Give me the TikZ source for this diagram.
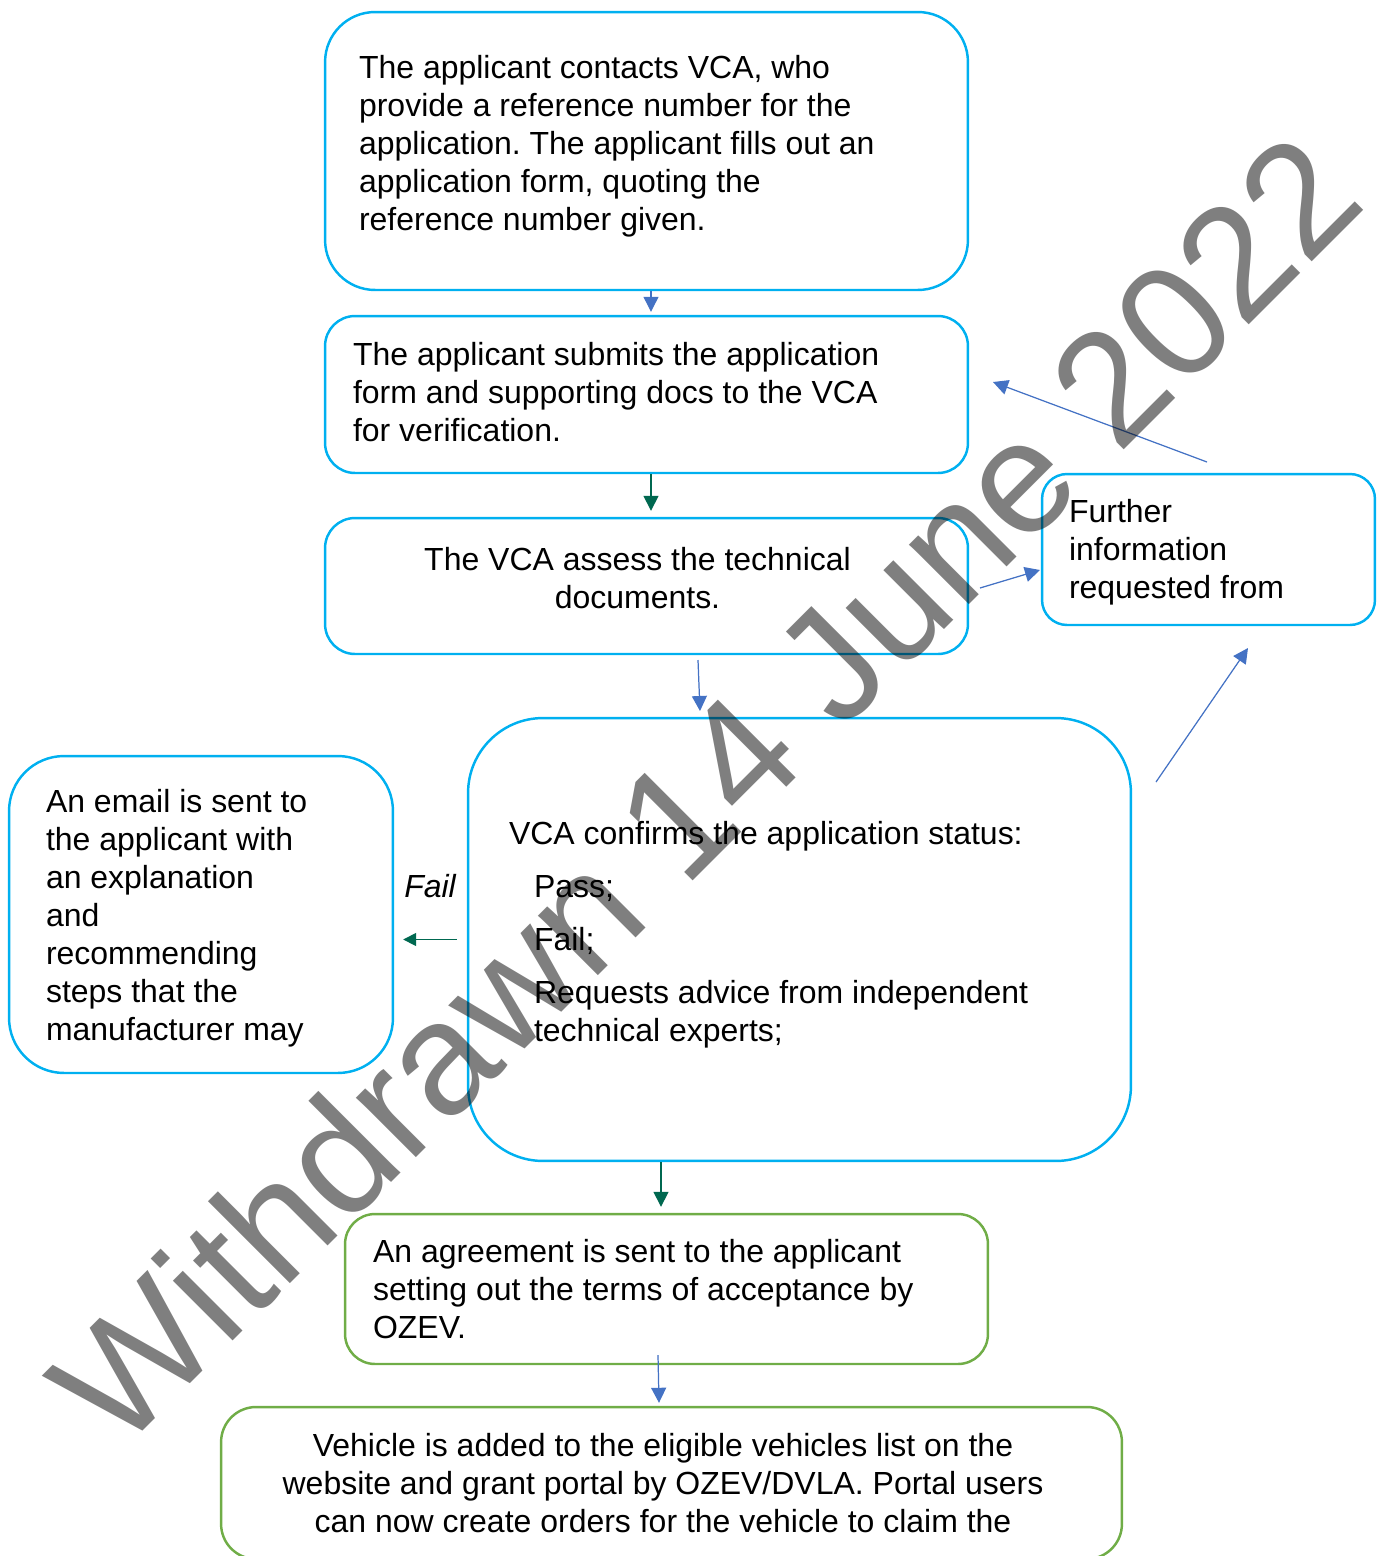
\documentclass[tikz,border=0pt]{standalone}
\usepackage{fontspec}
\setmainfont{Liberation Sans}
\usetikzlibrary{arrows.meta}
\definecolor{boxblue}{RGB}{0,176,240}
\definecolor{boxgreen}{RGB}{112,173,71}
\definecolor{arrblue}{RGB}{68,114,196}
\definecolor{arrgreen}{RGB}{0,104,80}

\begin{document}
\begin{tikzpicture}[x=0.02cm,y=-0.02cm,>={Triangle[length=0.3cm,width=0.3cm]},
	every node/.style={font=\fontsize{18.2}{21.6}\selectfont\frenchspacing},
	stage/.style={draw=boxblue,line width=1.4pt,inner sep=0pt},
	gstage/.style={draw=boxgreen,line width=1.4pt,inner sep=0pt},
	bluearr/.style={->,draw=arrblue,fill=arrblue,line width=0.7pt},
	greenarr/.style={->,draw=arrgreen,fill=arrgreen,line width=0.9pt}]
    \useasboundingbox (0,0) rectangle (1381,1556);

    \node[stage,rounded corners=1cm,minimum width=12.86cm,minimum height=5.56cm,text width=11.5cm,align=flush left,text depth=3.37cm] (contact) at (646.5,151)
        {The applicant contacts VCA, who\\provide a reference number for the\\application. The applicant fills out an\\application form, quoting the\\reference number given.};
    \node[stage,rounded corners=0.6cm,minimum width=12.86cm,minimum height=3.14cm,text width=11.74cm,align=flush left,text depth=1.64cm] (submit) at (646.5,394.5)
        {The applicant submits the application\\form and supporting docs to the VCA\\for verification.};
    \node[stage,rounded corners=0.6cm,minimum width=12.86cm,minimum height=2.72cm] (assess) at (646.5,586) {};
    \node[align=center,inner sep=0pt] (assesstext) at (637.5,578) {The VCA assess the technical\\documents.};
    \node[stage,rounded corners=0.5cm,minimum width=6.66cm,minimum height=3.02cm,text width=5.58cm,align=flush left,text depth=1.53cm] (further) at (1208.5,549.5)
        {Further\\information\\requested from};
    \node[stage,rounded corners=1.5cm,minimum width=13.26cm,minimum height=8.86cm,text width=11.62cm,align=flush left,text depth=4.27cm] (confirm) at (799.5,939.5)
        {VCA confirms the application status:\\[0.3cm]
        \hspace*{0.5cm}Pass;\\[0.3cm]
        \hspace*{0.5cm}Fail;\\[0.3cm]
        \hspace*{0.5cm}Requests advice from independent\\
        \hspace*{0.5cm}technical experts;};
    \node[stage,rounded corners=1.1cm,minimum width=7.68cm,minimum height=6.34cm,text width=6.2cm,align=flush left,text depth=4.53cm] (email) at (201,914.5)
        {An email is sent to\\the applicant with\\an explanation\\and\\recommending\\steps that the\\manufacturer may};
    \node[gstage,rounded corners=0.6cm,minimum width=12.86cm,minimum height=3cm,text width=11.74cm,align=flush left] (agree) at (666.5,1289)
        {An agreement is sent to the applicant\\setting out the terms of acceptance by\\OZEV.};
    \node[gstage,rounded corners=0.7cm,minimum width=18.02cm,minimum height=3.04cm] (added) at (671.5,1483) {};
    \node[align=center,inner sep=0pt] (addedtext) at (663,1483)
        {Vehicle is added to the eligible vehicles list on the\\website and grant portal by OZEV/DVLA. Portal users\\can now create orders for the vehicle to claim the};

    \coordinate (assessout) at (698,660);
    \coordinate (confirmin) at (700,711);
    \coordinate (assessright) at (980,588);
    \coordinate (furtherin) at (1040,570);
    \coordinate (furtherout) at (1207,462);
    \coordinate (submitin) at (993,382);
    \coordinate (confirmright) at (1156,782);
    \coordinate (furtherbelow) at (1248,648);
    \coordinate (agreeout) at (658,1355);

    \draw[bluearr] ([xshift=0.09cm]contact.south) -- ([xshift=0.09cm,yshift=0.06cm]submit.north);
    \draw[greenarr] ([xshift=0.09cm]submit.south) -- ([xshift=0.09cm,yshift=0.12cm]assess.north);
    \draw[bluearr] (assessout) -- (confirmin);
    \draw[bluearr] (assessright) -- (furtherin);
    \draw[bluearr] (furtherout) -- (submitin);
    \draw[bluearr] (confirmright) -- (furtherbelow);
    \draw[greenarr,>={Triangle[length=0.26cm,width=0.26cm]}] ([xshift=-0.2cm]confirm.west) -- ([xshift=0.18cm]email.east |- confirm.west)
        node[midway,yshift=1.06cm] {\itshape Fail};
    \draw[greenarr] ([xshift=-2.77cm]confirm.south) -- ([xshift=-0.11cm,yshift=0.12cm]agree.north);
    \draw[bluearr] (agreeout) -- ([xshift=-0.25cm,yshift=0.06cm]added.north);

    \node[anchor=base west,rotate=45,inner sep=0pt,text=black,text opacity=0.5,font=\fontsize{91}{100}\selectfont] (stamp) at (119,1455) {Withdrawn 14 June 2022};
\end{tikzpicture}
\end{document}
